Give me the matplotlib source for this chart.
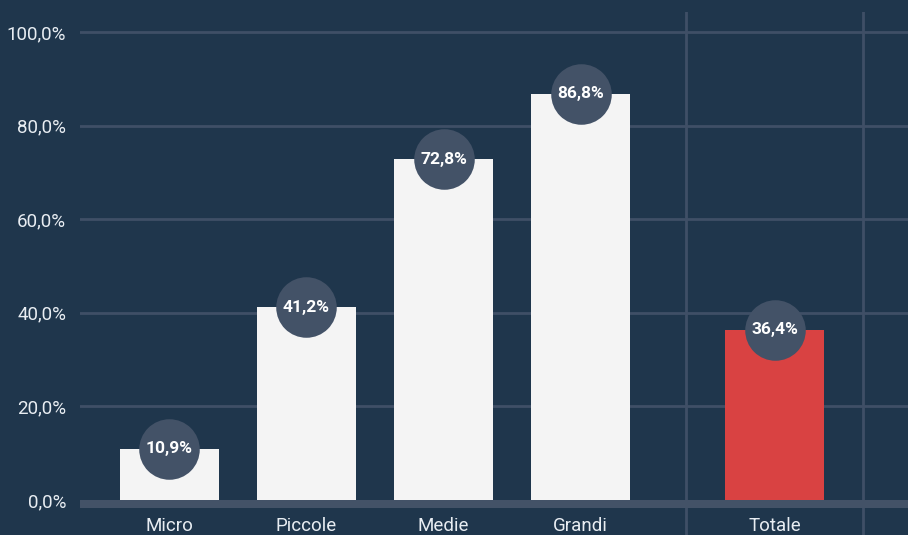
import matplotlib.pyplot as plt

# data
categories = ["Micro", "Piccole", "Medie", "Grandi", "Totale"]
values = [10.9, 41.2, 72.8, 86.8, 36.4]
value_labels = ["10,9%", "41,2%", "72,8%", "86,8%", "36,4%"]
yticks = [0, 20, 40, 60, 80, 100]
ytick_labels = ["0,0%", "20,0%", "40,0%", "60,0%", "80,0%", "100,0%"]

bg = "#1f364c"
grid_col = "#3f4f66"
band_col = "#435267"
bar_col = "#f4f4f4"
tot_col = "#d94242"
txt_col = "#e8edf2"

plt.rcParams["font.family"] = ["Roboto", "DejaVu Sans"]

# first four share a regular step, the total sits in its own panel
xpos = [0, 1, 2, 3, 4.416]
colors = [bar_col] * 4 + [tot_col]

fig = plt.figure(figsize=(9.08, 5.35), dpi=100, facecolor=bg)
ax = fig.add_axes([80 / 908, 0, 1 - 80 / 908, 523 / 535])
ax.set_facecolor(bg)

ax.set_xlim(-0.653, 5.39)
ax.set_ylim(-7.48, 104.27)

# horizontal grid
for t in yticks[1:]:
    ax.axhline(t, color=grid_col, lw=2, zorder=1)
# baseline band
ax.axhspan(-1.7, 0, color=band_col, lw=0, zorder=2)
# panel separators around the total
for xv in [3.77, 5.062]:
    ax.axvline(xv, color=grid_col, lw=2, zorder=1)

ax.bar(xpos, values, width=0.723, color=colors, zorder=3)

# value bubbles
for x, v, lab in zip(xpos, values, value_labels):
    ax.scatter([x], [v], s=1900, color=band_col, zorder=4, linewidths=0)
    ax.text(x, v, lab, ha="center", va="center", color="white",
            fontsize=12.5, fontweight="bold", zorder=5)

# category labels
for x, c in zip(xpos, categories):
    ax.text(x, -3.6, c, ha="center", va="top", color=txt_col, fontsize=13.5)

ax.set_yticks(yticks)
ax.set_yticklabels(ytick_labels)
ax.tick_params(axis="y", length=0, pad=10, labelsize=13.5, labelcolor=txt_col)
ax.set_xticks([])
for s in ax.spines.values():
    s.set_visible(False)

fig.savefig("out.png", dpi=100, facecolor=bg)
